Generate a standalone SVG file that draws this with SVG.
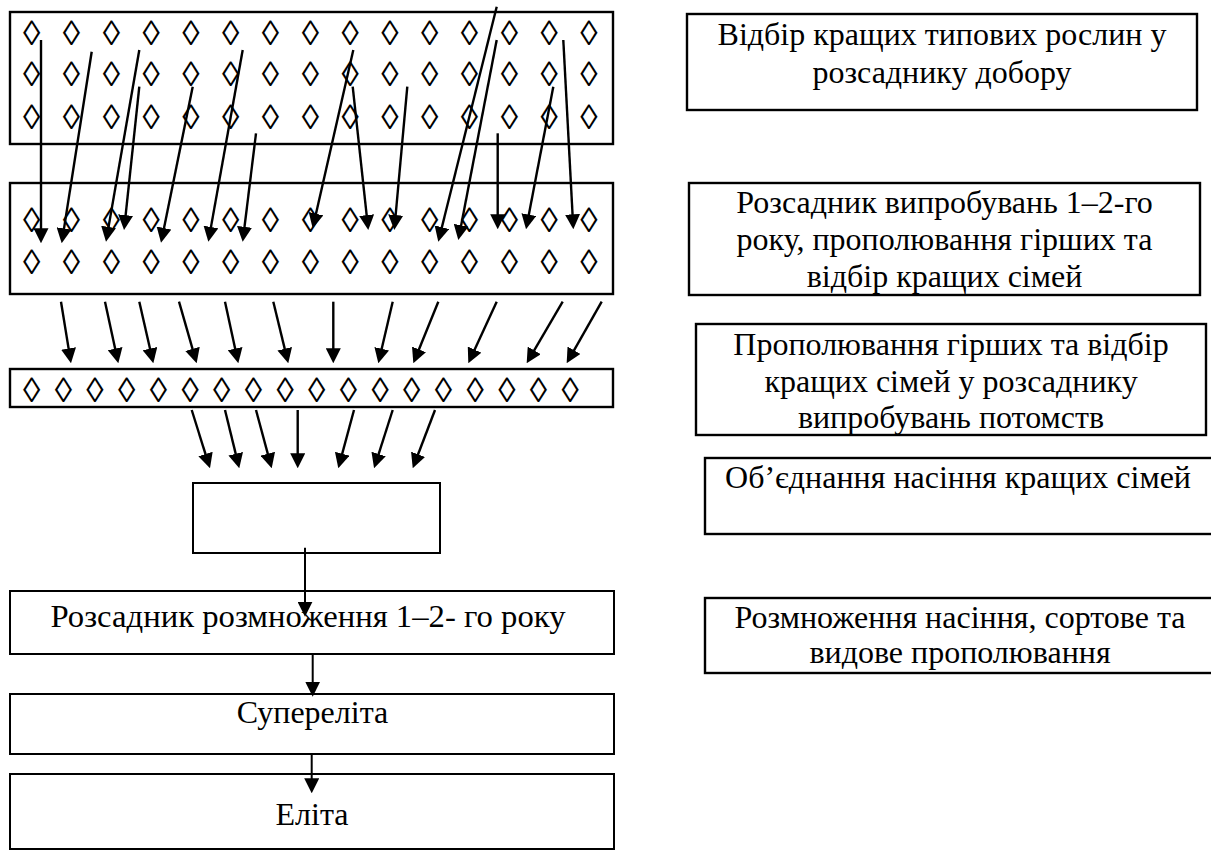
<svg xmlns="http://www.w3.org/2000/svg" width="1211" height="852" viewBox="0 0 1211 852">
<style>
.box{fill:#fff;stroke:#000;stroke-width:2.4}
.box2{fill:#fff;stroke:#000;stroke-width:2}
.t{font-family:"Liberation Serif","Times New Roman",serif;font-size:32px;fill:#000;text-anchor:middle}
.d{font-family:"Liberation Serif","Times New Roman",serif;font-size:35px;fill:#000;text-anchor:middle}
.c{stroke:#000;stroke-width:2.4;fill:none;marker-end:url(#ah)}
.c2{stroke:#000;stroke-width:2;fill:none;marker-end:url(#ah)}
</style>
<defs>
<marker id="ah" markerUnits="userSpaceOnUse" viewBox="0 0 15 15" markerWidth="15" markerHeight="15" refX="5" refY="7.5" orient="auto">
<path d="M0,0 L15,7.5 L0,15 z" fill="#000"/>
</marker>
</defs>
<rect width="1211" height="852" fill="#fff"/>

<g id="nursery-selection">
<rect class="box" x="10" y="12" width="603" height="132"/>
<text class="d" x="31.7 71.5 111.3 151.1 190.9 230.7 270.5 310.3 350.1 389.9 429.7 469.5 509.3 549.1 588.9" y="44.9">◊◊◊◊◊◊◊◊◊◊◊◊◊◊◊</text>
<text class="d" x="31.7 71.5 111.3 151.1 190.9 230.7 270.5 310.3 350.1 389.9 429.7 469.5 509.3 549.1 588.9" y="86.2">◊◊◊◊◊◊◊◊◊◊◊◊◊◊◊</text>
<text class="d" x="31.7 71.5 111.3 151.1 190.9 230.7 270.5 310.3 350.1 389.9 429.7 469.5 509.3 549.1 588.9" y="129.2">◊◊◊◊◊◊◊◊◊◊◊◊◊◊◊</text>
</g>

<g id="nursery-trial">
<rect class="box" x="10" y="183" width="603" height="111"/>
<text class="d" x="31.7 71.5 111.3 151.1 190.9 230.7 270.5 310.3 350.1 389.9 429.7 469.5 509.3 549.1 588.9" y="232">◊◊◊◊◊◊◊◊◊◊◊◊◊◊◊</text>
<text class="d" x="31.7 71.5 111.3 151.1 190.9 230.7 270.5 310.3 350.1 389.9 429.7 469.5 509.3 549.1 588.9" y="273.7">◊◊◊◊◊◊◊◊◊◊◊◊◊◊◊</text>
</g>

<g id="nursery-progeny">
<rect class="box" x="10" y="369" width="603" height="38"/>
<text class="d" x="31.7 63.4 95.0 126.7 158.4 190.1 221.7 253.4 285.1 316.7 348.4 380.1 411.7 443.4 475.1 506.8 538.4 570.1" y="402">◊◊◊◊◊◊◊◊◊◊◊◊◊◊◊◊◊◊</text>
</g>

<g id="seed-union">
<rect class="box2" x="193" y="483" width="247" height="70"/>
</g>

<g id="nursery-multiplication">
<rect class="box2" x="10" y="591" width="604" height="63"/>
<text class="t" x="308" y="626.7" textLength="515" lengthAdjust="spacingAndGlyphs">Розсадник розмноження 1–2- го року</text>
</g>

<g id="superelite">
<rect class="box2" x="10" y="694" width="604" height="60"/>
<text class="t" x="312.5" y="723.3">Супереліта</text>
</g>

<g id="elite">
<rect class="box2" x="10" y="774" width="604" height="75"/>
<text class="t" x="312" y="825">Еліта</text>
</g>

<g id="label-1">
<rect class="box" x="687" y="14" width="510" height="96"/>
<text class="t" x="942" y="45">Відбір кращих типових рослин у</text>
<text class="t" x="942" y="83.3">розсаднику добору</text>
</g>

<g id="label-2">
<rect class="box" x="689" y="183" width="511" height="112"/>
<text class="t" x="944.5" y="213.3">Розсадник випробувань 1–2-го</text>
<text class="t" x="944.5" y="250">року, прополювання гірших та</text>
<text class="t" x="944.5" y="286.7">відбір кращих сімей</text>
</g>

<g id="label-3">
<rect class="box" x="696" y="324" width="510" height="111"/>
<text class="t" x="951" y="355">Прополювання гірших та відбір</text>
<text class="t" x="951" y="391.7">кращих сімей у розсаднику</text>
<text class="t" x="951" y="428.3">випробувань потомств</text>
</g>

<g id="label-4">
<rect class="box" x="705" y="458" width="512" height="76"/>
<text class="t" x="958" y="488.3">Об’єднання насіння кращих сімей</text>
</g>

<g id="label-5">
<rect class="box" x="705" y="598" width="512" height="75"/>
<text class="t" x="960" y="628.3">Розмноження насіння, сортове та</text>
<text class="t" x="960" y="663.3">видове прополювання</text>
</g>

<g id="connectors">
<line class="c" x1="41" y1="40" x2="41" y2="233.3"/>
<line class="c" x1="91.7" y1="51.7" x2="63.25" y2="233.4"/>
<line class="c" x1="139.3" y1="50" x2="107.7" y2="231.9"/>
<line class="c" x1="139.3" y1="86.7" x2="125.1" y2="220.1"/>
<line class="c" x1="192.7" y1="86.7" x2="163" y2="232.9"/>
<line class="c" x1="242.7" y1="50" x2="210.1" y2="231.9"/>
<line class="c" x1="256" y1="133.3" x2="243.9" y2="231.8"/>
<line class="c" x1="353.3" y1="50" x2="314.9" y2="218.6"/>
<line class="c" x1="352.7" y1="86.7" x2="367.2" y2="220.1"/>
<line class="c" x1="407.3" y1="86.7" x2="395.2" y2="220"/>
<line class="c" x1="496.7" y1="6.7" x2="440.7" y2="232"/>
<line class="c" x1="496.7" y1="40" x2="460.2" y2="230.2"/>
<line class="c" x1="497.7" y1="133.3" x2="497.7" y2="219.3"/>
<line class="c" x1="553.3" y1="86.7" x2="527.9" y2="219.5"/>
<line class="c" x1="563.3" y1="40" x2="572.8" y2="219.3"/>

<line class="c" x1="61" y1="301.7" x2="69.4" y2="353.4"/>
<line class="c" x1="105" y1="301.7" x2="116.2" y2="353.5"/>
<line class="c" x1="139.3" y1="301.7" x2="151.1" y2="353.5"/>
<line class="c" x1="179" y1="301.7" x2="193.9" y2="353.7"/>
<line class="c" x1="225" y1="301.7" x2="236.2" y2="353.5"/>
<line class="c" x1="273.3" y1="301.7" x2="285.9" y2="353.6"/>
<line class="c" x1="333.3" y1="301.7" x2="333.3" y2="353.3"/>
<line class="c" x1="392.7" y1="301.7" x2="380.6" y2="353.6"/>
<line class="c" x1="438.3" y1="301.7" x2="417.1" y2="354"/>
<line class="c" x1="496.7" y1="301.7" x2="472.5" y2="354.2"/>
<line class="c" x1="562.7" y1="301.7" x2="531.7" y2="354.7"/>
<line class="c" x1="601.7" y1="301.7" x2="571.6" y2="354.6"/>

<line class="c" x1="191.7" y1="410" x2="207" y2="458.8"/>
<line class="c" x1="225" y1="410" x2="236.9" y2="458.6"/>
<line class="c" x1="256" y1="410" x2="269.1" y2="458.6"/>
<line class="c" x1="297.7" y1="410" x2="297.7" y2="458.3"/>
<line class="c" x1="354" y1="410" x2="340.9" y2="458.6"/>
<line class="c" x1="392.7" y1="410" x2="377.1" y2="458.8"/>
<line class="c" x1="435" y1="410" x2="416.3" y2="459"/>

<line class="c2" x1="305" y1="547.7" x2="305" y2="606.7"/>
<line class="c2" x1="312.7" y1="655" x2="312.7" y2="686.7"/>
<line class="c2" x1="311.7" y1="755" x2="311.7" y2="783.3"/>
</g>
</svg>
